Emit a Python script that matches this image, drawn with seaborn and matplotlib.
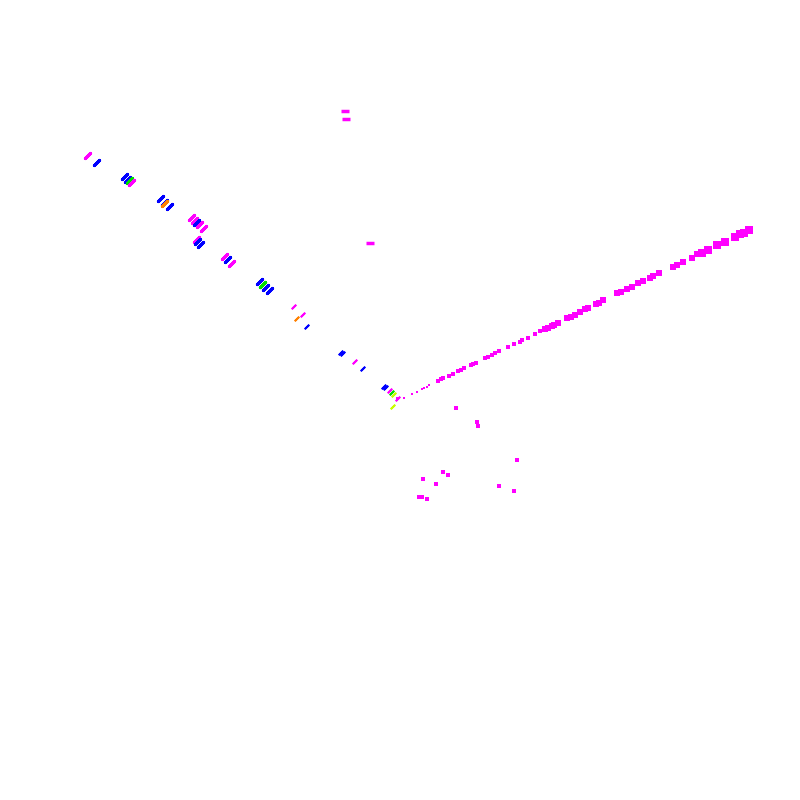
import numpy as np
import pandas as pd
import matplotlib
matplotlib.use("Agg")
import matplotlib.pyplot as plt
import seaborn as sns

# left arm of the cloud (dashes), colour per point
left_x = [88, 97, 125, 128, 130, 132, 161, 165, 165, 170, 192, 195, 197, 200, 204,
          197, 198, 201, 225, 228, 232, 260, 263, 263, 266, 270]
left_y = [156, 163, 177, 180, 181, 183, 199, 203, 204, 207, 218, 221, 223, 225, 229,
          240, 242, 245, 257, 260, 264, 282, 285, 285, 288, 291]
left_c = ["m", "b", "b", "b", "g", "m", "b", "b", "o", "b", "m", "m", "b", "m", "m",
          "m", "b", "b", "m", "b", "m", "b", "b", "g", "b", "b"]

# middle section towards the vertex
mid_x = [294, 303, 297, 307, 341, 343, 355, 363, 384, 386, 390, 392, 394, 398, 393]
mid_y = [307, 315, 319, 327, 353, 354, 362, 369, 387, 388, 391, 393, 395, 399, 407]
mid_c = ["m", "m", "o", "b", "b", "b", "m", "b", "b", "b", "m", "g", "y", "m", "y"]

# right arm (all magenta)
right_x = [397, 404, 412, 417, 422, 424, 427, 429, 438, 441, 443, 449, 453, 458, 461,
           464, 471, 473, 476, 485, 488, 492, 495, 499, 508, 514, 520, 522, 528, 535,
           540, 545, 548, 552, 554, 558, 567, 571, 575, 580, 585, 588, 596, 599, 603,
           617, 621, 627, 632, 638, 643, 650, 653, 659, 673, 677, 683, 692, 697, 702,
           708, 717, 725, 735, 740, 744, 749]
right_y = [398, 398, 394, 392, 389, 388, 387, 385, 381, 379, 378, 376, 374, 371, 370,
           368, 365, 364, 363, 358, 357, 355, 353, 351, 347, 344, 342, 340, 338, 334,
           331, 329, 328, 326, 325, 323, 318, 317, 315, 312, 309, 308, 304, 303, 300,
           293, 292, 289, 287, 283, 281, 278, 276, 273, 267, 265, 262, 258, 254, 253,
           250, 245, 242, 237, 234, 233, 230]

# scattered specks below the vertex
spot_x = [456, 477, 478, 517, 443, 448, 423, 436, 499, 514, 419, 422, 427]
spot_y = [408, 422, 426, 460, 472, 475, 479, 484, 486, 491, 497, 497, 499]

# lone horizontal marks above
top_x = [345, 346, 370]
top_y = [111, 119, 243]

colors = {"m": "#ff00ff", "b": "#0000ff", "g": "#00dd00", "o": "#ff8000", "y": "#c8ff00"}

left = pd.DataFrame({"x": left_x, "y": left_y, "c": left_c})
mid = pd.DataFrame({"x": mid_x, "y": mid_y, "c": mid_c})
right = pd.DataFrame({"x": right_x, "y": right_y})
spots = pd.DataFrame({"x": spot_x, "y": spot_y})
top = pd.DataFrame({"x": top_x, "y": top_y})

sns.set_style("white")
fig = plt.figure(figsize=(8, 8), dpi=100)
ax = fig.add_axes([0, 0, 1, 1])

# short slanted dashes on the left arm, shrinking towards the vertex
sns.scatterplot(data=left, x="x", y="y", hue="c", palette=colors, marker=(2, 2, -45),
                s=28, linewidth=2.2, legend=False, ax=ax)
sns.scatterplot(data=mid, x="x", y="y", hue="c", palette=colors, marker=(2, 2, -45),
                s=10, linewidth=1.4, legend=False, ax=ax)

# points grow with distance from the vertex
right_sizes = 1.5 + (right["x"] - 395) / 355 * 28
ax.scatter(right["x"], right["y"], s=right_sizes, marker="s", color="#ff00ff", linewidths=0)

sns.scatterplot(data=spots, x="x", y="y", color="#ff00ff", marker="s", s=9,
                linewidth=0, legend=False, ax=ax)
sns.scatterplot(data=top, x="x", y="y", color="#ff00ff", marker="_", s=30,
                linewidth=2.5, legend=False, ax=ax)

ax.set_xlim(0, 800)
ax.set_ylim(800, 0)
ax.axis("off")

fig.savefig("out.png", dpi=100, facecolor="white")
